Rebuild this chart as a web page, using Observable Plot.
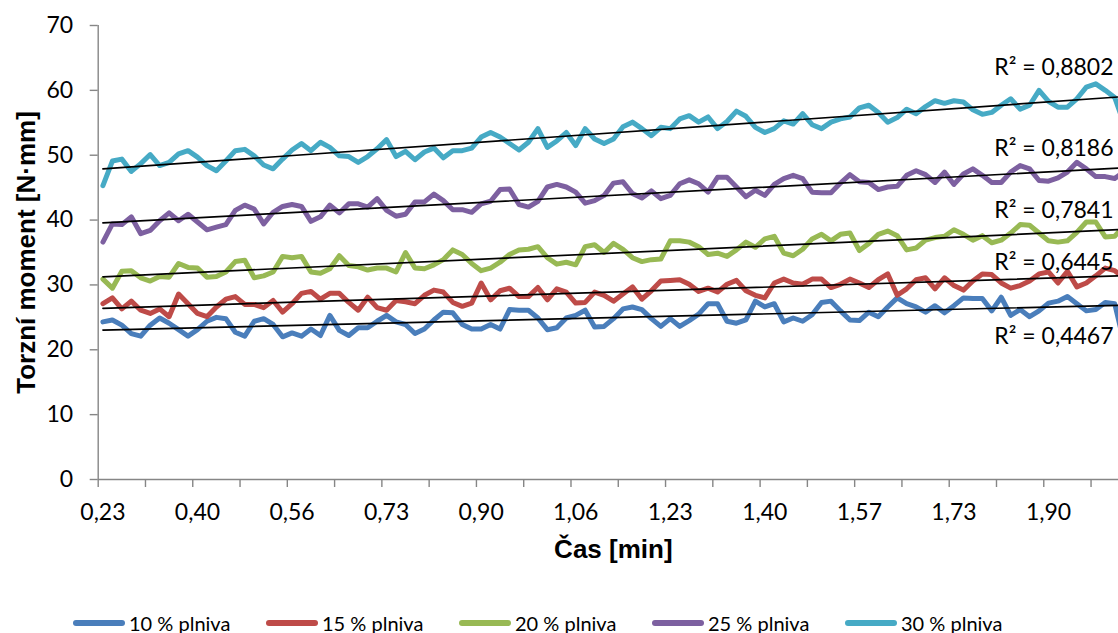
<!DOCTYPE html>
<html>
<head>
<meta charset="utf-8">
<script src="https://cdn.jsdelivr.net/npm/d3@7"></script>
<script src="https://cdn.jsdelivr.net/npm/@observablehq/plot@0.6"></script>
<style>
  html, body { margin: 0; padding: 0; background: #fff; }
  #wrap { position: relative; width: 1118px; height: 633px; overflow: hidden; }
  #legend { position: absolute; left: 0; top: 602px; width: 1118px; height: 41px; font-family: Lato, sans-serif; font-size: 20px; color: #000; }
  .item { position: absolute; top: 0; height: 41px; display: flex; align-items: center; }
  .swatch { width: 52px; height: 6px; border-radius: 3px; margin-right: 4px; }
</style>
</head>
<body>
<div id="wrap"><div id="chart"></div><div id="legend"></div></div>
<script>
// ---- data ----
const timeLabels = ["0,23","0,40","0,56","0,73","0,90","1,06","1,23","1,40","1,57","1,73","1,90"];
const seriesNames = ["10 % plniva","15 % plniva","20 % plniva","25 % plniva","30 % plniva"];
const r2Texts = ["R² = 0,4467","R² = 0,6445","R² = 0,7841","R² = 0,8186","R² = 0,8802"];

const s10 = [24.3,24.6,23.8,22.5,22.1,23.8,24.9,24.1,23.1,22.1,23.1,24.4,25.0,24.8,22.7,22.1,24.4,24.8,23.9,22.0,22.6,22.1,23.2,22.2,25.3,23.0,22.2,
  23.4,23.4,24.4,25.3,24.3,23.9,22.5,23.2,24.6,25.8,25.7,23.9,23.2,23.2,23.9,23.2,26.2,26.1,26.1,24.9,23.1,23.4,24.9,25.3,26.1,23.5,23.6,
  24.8,26.3,26.6,26.2,24.8,23.6,24.8,23.6,24.5,25.5,27.1,27.1,24.4,24.1,24.6,27.5,26.6,27.1,24.3,24.9,24.4,25.4,27.3,27.5,26.0,24.6,24.5,
  25.8,25.1,26.6,28.0,27.1,26.6,25.8,26.8,25.7,26.8,28.0,27.9,27.9,26.0,28.1,25.3,26.2,25.1,26.0,27.2,27.5,28.2,27.1,26.0,26.2,27.3,27.1,
  21.0];
const s15 = [27.1,28.0,26.3,27.5,26.1,25.6,26.3,25.1,28.6,27.1,25.6,25.1,26.6,27.8,28.2,27.0,27.0,26.5,27.6,25.8,27.1,28.7,29.0,27.8,28.7,28.7,27.3,
  26.1,28.1,26.5,26.1,27.6,27.4,27.1,28.4,29.2,28.9,27.3,26.7,27.2,30.3,27.7,29.1,29.5,28.2,28.2,29.6,27.7,29.4,28.9,27.2,27.3,28.9,28.4,
  27.5,28.6,29.7,27.8,29.1,30.6,30.7,30.8,30.1,29.0,29.5,28.9,30.1,30.7,29.1,28.4,28.0,30.3,30.9,30.3,30.1,30.9,30.9,29.6,30.1,30.9,30.3,
  29.6,30.8,31.7,28.4,29.4,30.8,31.1,29.4,31.1,29.9,29.2,30.6,31.7,31.6,30.3,29.5,29.9,30.6,31.7,32.0,30.3,32.1,29.7,30.3,31.4,32.6,32.2,
  31.1];
const s20 = [30.9,29.5,32.1,32.2,31.1,30.6,31.3,31.2,33.3,32.7,32.6,31.2,31.3,32.0,33.6,33.8,31.1,31.4,32.0,34.4,34.2,34.4,32.0,31.8,32.5,34.5,33.0,
  32.8,32.3,32.6,32.6,32.0,35.0,32.6,32.5,33.1,33.9,35.4,34.7,33.3,32.2,32.6,33.5,34.7,35.4,35.5,35.9,34.2,33.2,33.5,33.1,35.9,36.2,35.0,
  36.4,35.5,34.2,33.6,33.9,34.0,36.8,36.8,36.6,35.9,34.7,34.9,34.4,35.4,36.6,35.8,37.1,37.5,34.9,34.5,35.5,37.1,37.8,36.8,37.8,38.0,35.3,
  36.4,37.8,38.3,37.6,35.4,35.7,36.9,37.3,37.5,38.5,37.8,36.9,37.6,36.5,36.9,38.0,39.3,39.2,38.0,36.8,36.6,36.8,38.1,39.7,39.7,37.4,37.5,
  39.1];
const s25 = [36.6,39.4,39.3,40.5,37.9,38.4,39.9,41.1,39.9,40.9,39.7,38.5,38.9,39.3,41.5,42.3,41.7,39.4,41.2,42.1,42.4,42.1,39.8,40.5,42.3,41.1,42.5,
  42.5,42.0,43.3,41.5,40.6,40.9,42.8,42.8,44.0,43.0,41.6,41.6,41.2,42.5,42.9,44.7,44.8,42.4,42.0,42.9,45.1,45.5,45.1,44.3,42.6,43.0,43.8,
  45.7,45.9,44.1,43.4,44.5,43.3,43.8,45.6,46.2,45.6,44.3,46.6,46.6,45.1,43.6,44.6,43.8,45.5,46.4,46.9,46.4,44.3,44.2,44.2,45.7,47.0,45.9,
  45.8,44.7,45.1,45.2,46.9,47.6,47.0,45.8,47.4,45.5,47.1,47.9,46.9,45.8,45.8,47.4,48.4,47.9,46.1,46.0,46.5,47.4,48.9,47.9,46.7,46.7,46.4,
  47.5];
const s30 = [45.3,49.1,49.4,47.5,48.7,50.1,48.4,48.9,50.2,50.7,49.7,48.4,47.6,49.1,50.7,50.9,49.9,48.5,47.9,49.4,50.8,51.8,50.7,52.0,51.2,49.9,49.8,
  48.9,49.8,51.0,52.4,49.8,50.6,49.3,50.5,51.1,49.6,50.7,50.7,51.1,52.8,53.5,52.8,51.8,50.8,52.0,54.1,51.2,52.2,53.5,51.5,54.1,52.5,51.8,
  52.5,54.4,55.1,54.1,53.0,54.3,54.1,55.6,56.1,55.1,55.9,54.1,55.2,56.8,56.0,54.3,53.5,54.1,55.3,54.8,56.4,54.7,54.1,55.1,55.6,55.9,57.3,
  57.7,56.6,55.1,55.8,57.1,56.4,57.5,58.4,58.0,58.4,58.2,57.0,56.3,56.6,57.7,58.7,57.1,57.7,60.0,58.3,57.4,57.4,58.7,60.5,61.0,60.0,58.9,
  54.8];

// ---- styling / layout ----
const colors = ["#4A7EBB","#BE4B48","#98B954","#7D60A0","#46AAC5"];
const allSeries = [s10, s15, s20, s25, s30];
const r2PixelY = [336, 262, 210, 148, 67];   // label centres (px from top)

const W = 1118, H = 592, mL = 97.7, mT = 25, mB = 113;
const tidy = allSeries.map((arr, k) => arr.map((v, i) => ({i, v, s: seriesNames[k]})));

const tickIdx = d3.range(-0.5, 107, 5);
const labelIdx = timeLabels.map((_, k) => k * 10);

const marks = [
  Plot.ruleY([0], {stroke: "#868686", strokeWidth: 1.4}),
  Plot.ruleX([-0.5], {stroke: "#868686", strokeWidth: 1.4}),
  Plot.axisY({ticks: d3.range(0, 71, 10), tickSize: 8, tickPadding: 17, stroke: "#868686", strokeWidth: 1.4, label: null, fontSize: 23, tickFormat: d => String(d)}),
  Plot.axisX({ticks: tickIdx, tickSize: 8, text: null, stroke: "#868686", strokeWidth: 1.4, label: null}),
  Plot.axisX({ticks: labelIdx, tickSize: 0, tickPadding: 24, label: null, fontSize: 23, tickFormat: d => timeLabels[Math.round(d / 10)]})
];
tidy.forEach((d, k) => {
  marks.push(Plot.line(d, {x: "i", y: "v", stroke: colors[k], strokeWidth: 5, strokeLinejoin: "round", strokeLinecap: "round", clip: true}));
});
tidy.forEach((d) => {
  marks.push(Plot.linearRegressionY(d, {x: "i", y: "v", stroke: "#000", strokeWidth: 1.7, ci: 0, clip: true}));
});
r2Texts.forEach((t, k) => {
  marks.push(Plot.text([t], {frameAnchor: "top-right", dx: -5, dy: r2PixelY[k] - mT, textAnchor: "end", lineAnchor: "middle", fontSize: 23, fill: "#000"}));
});
marks.push(Plot.text(["Torzní moment [N·mm]"], {frameAnchor: "left", dx: -72, rotate: -90, textAnchor: "middle", lineAnchor: "middle", fontSize: 26, fontWeight: "bold", fontFamily: "Liberation Sans, Arial, sans-serif", fill: "#000"}));
marks.push(Plot.text(["Čas [min]"], {frameAnchor: "bottom", dx: 5, dy: 70, textAnchor: "middle", lineAnchor: "middle", fontSize: 26, fontWeight: "bold", fontFamily: "Liberation Sans, Arial, sans-serif", fill: "#000"}));

const chart = Plot.plot({
  width: W, height: H,
  marginLeft: mL, marginRight: 0, marginTop: mT, marginBottom: mB,
  x: {domain: [-0.5, (1118 - 102.4) / 9.456]},
  y: {domain: [0, 70]},
  style: {fontFamily: "Lato, sans-serif", fontSize: "23px", color: "#000", background: "#fff", overflow: "visible"},
  marks
});
document.getElementById("chart").appendChild(chart);

// ---- legend ----
const legend = document.getElementById("legend");
seriesNames.forEach((name, k) => {
  const item = document.createElement("div");
  item.className = "item";
  item.style.left = (73 + 193 * k) + "px";
  const sw = document.createElement("div");
  sw.className = "swatch";
  sw.style.background = colors[k];
  const tx = document.createElement("span");
  tx.textContent = name;
  item.appendChild(sw); item.appendChild(tx);
  legend.appendChild(item);
});
</script>
</body>
</html>
